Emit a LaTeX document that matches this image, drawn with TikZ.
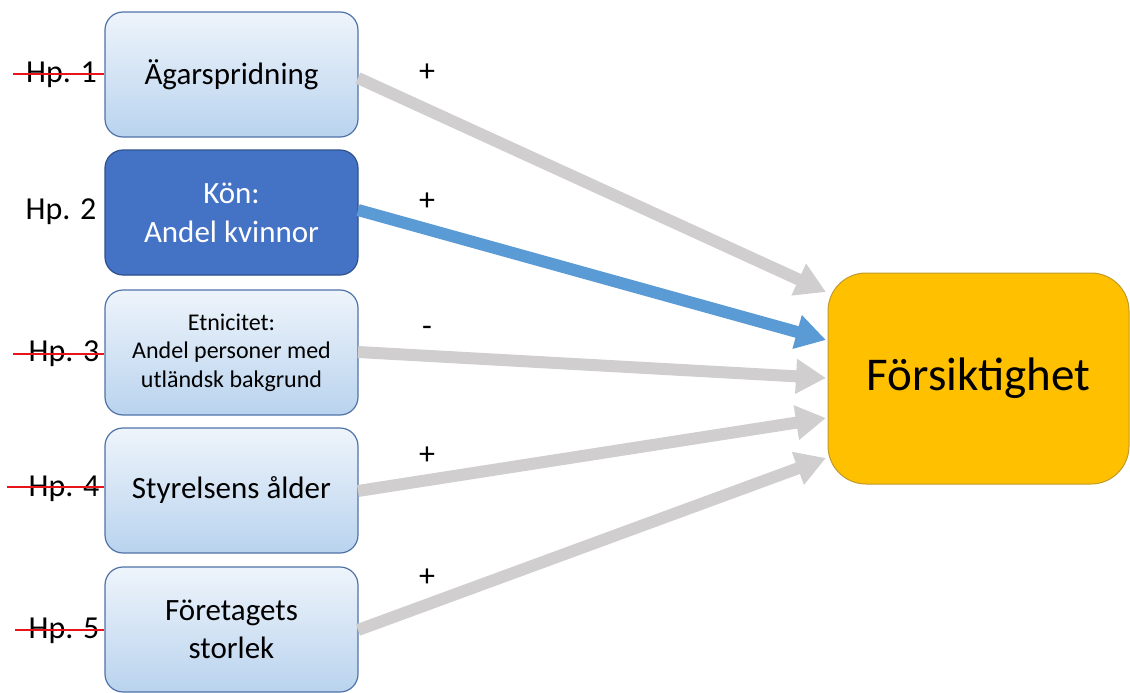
\documentclass[tikz,border=0pt]{standalone}
\usepackage{fontspec}
\setmainfont{Carlito}
\usetikzlibrary{arrows.meta}
\definecolor{boxtop}{HTML}{EEF4FB}
\definecolor{boxbot}{HTML}{B9D3EE}
\definecolor{boxline}{HTML}{4F72A8}
\definecolor{darkbox}{HTML}{4472C4}
\definecolor{darkline}{HTML}{2F528F}
\definecolor{goldbox}{HTML}{FFC000}
\definecolor{goldline}{HTML}{C09A2A}
\definecolor{arrgray}{HTML}{D0CECE}
\definecolor{arrblue}{HTML}{5B9BD5}
\definecolor{strike}{HTML}{E8141B}
\tikzset{
  x=1pt, y=-1pt,
  varbox/.style={draw=boxline, line width=1.2pt, rounded corners=18pt, top color=boxtop, bottom color=boxbot,
    minimum width=253pt, minimum height=125pt, align=center, inner sep=0pt, font=\fontsize{31}{39}\selectfont},
  darkvar/.style={varbox, draw=darkline, fill=darkbox, top color=darkbox, bottom color=darkbox, text=white},
  targetbox/.style={draw=goldline, line width=1pt, rounded corners=38pt, fill=goldbox,
    minimum width=301pt, minimum height=211pt, inner sep=0pt, font=\fontsize{47}{56}\selectfont},
  hplabel/.style={font=\fontsize{32}{38}\selectfont, inner sep=0pt},
  strikeline/.style={draw=strike, line width=1.8pt},
  signlabel/.style={font=\fontsize{32}{38}\selectfont, inner sep=0pt},
  grayarrow/.style={draw=arrgray, line width=12pt, -{Triangle[width=33pt,length=30pt]}},
  bluearrow/.style={draw=arrblue, line width=12pt, -{Triangle[width=33pt,length=30pt]}}
}
\begin{document}
\begin{tikzpicture}
\useasboundingbox (0,0) rectangle (1130,693);
\node[varbox] (b1) at (231.5,74.5) {Ägarspridning};
\node[darkvar] (b2) at (231.5,212.5) {Kön:\\Andel kvinnor};
\node[varbox, font=\fontsize{24}{28.5}\selectfont] (b3) at (231.5,352.5) {Etnicitet:\\Andel personer med\\utländsk bakgrund};
\node[varbox] (b4) at (231.5,490.5) {Styrelsens ålder};
\node[varbox, font=\fontsize{31}{38}\selectfont] (b5) at (231.5,629.5) {Företagets\\storlek};
\node[targetbox] (t) at (978.5,378.5) {Försiktighet};

\coordinate (s1) at (358,78);
\coordinate (s2) at (358,210);
\coordinate (s3) at (358,352);
\coordinate (s4) at (358,491);
\coordinate (s5) at (358,630);
\coordinate (e1) at (826,292);
\coordinate (e2) at (826,340);
\coordinate (e3) at (826,378);
\coordinate (e4) at (826,418);
\coordinate (e5) at (826,458);
\draw[grayarrow] (s1) -- (e1);
\draw[grayarrow] (s3) -- (e3);
\draw[grayarrow] (s4) -- (e4);
\draw[grayarrow] (s5) -- (e5);
\draw[bluearrow] (s2) -- (e2);

\node[hplabel] (h1) at (61.5,75) {Hp. 1};
\node[hplabel] (h2) at (61,212) {Hp. 2};
\node[hplabel] (h3) at (64,354) {Hp. 3};
\node[hplabel] (h4) at (64,489) {Hp. 4};
\node[hplabel] (h5) at (64,631) {Hp. 5};
\coordinate (r1) at (13,74);
\coordinate (r3) at (13,354);
\coordinate (r4) at (7,487);
\coordinate (r5) at (15,630);
\draw[strikeline] (r1) -- (b1.west |- r1);
\draw[strikeline] (r3) -- (b3.west |- r3);
\draw[strikeline] (r4) -- (b4.west |- r4);
\draw[strikeline] (r5) -- (b5.west |- r5);

\node[signlabel] (p1) at (427,73) {+};
\node[signlabel] (p2) at (427,202) {+};
\node[signlabel] (p3) at (427,331) {-};
\node[signlabel] (p4) at (427,456) {+};
\node[signlabel] (p5) at (427,578) {+};
\end{tikzpicture}
\end{document}
